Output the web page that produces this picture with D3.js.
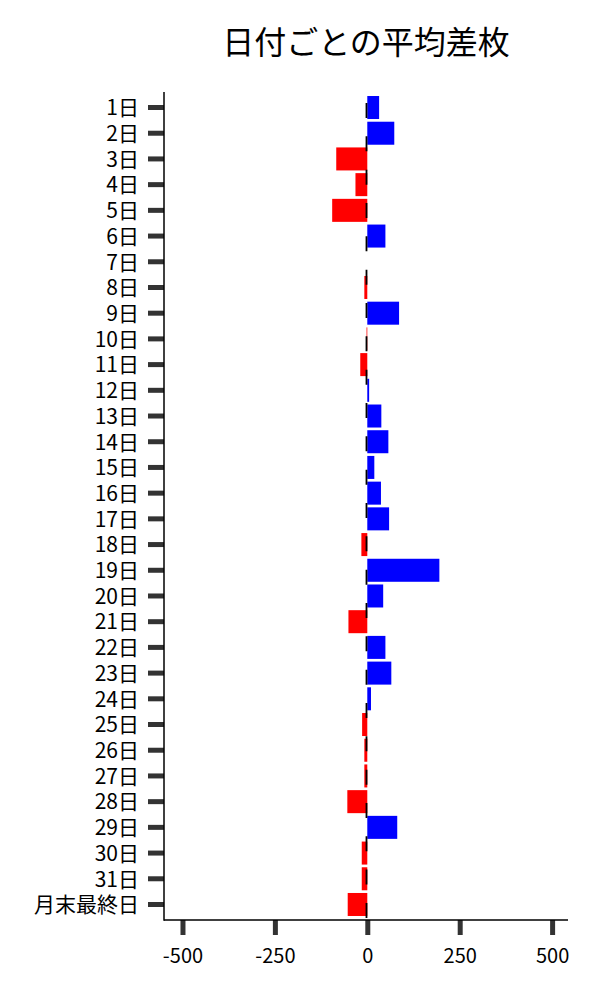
<!DOCTYPE html>
<html>
<head>
<meta charset="utf-8">
<script src="https://cdn.jsdelivr.net/npm/d3@7"></script>
<style>
  html, body { margin: 0; padding: 0; background: #fff; }
  svg text { font-family: "Noto Sans CJK JP", "Noto Sans", sans-serif; }
</style>
</head>
<body>
<svg id="chart" width="600" height="1000"></svg>
<script>
const title = "日付ごとの平均差枚";
const categories = ["1日","2日","3日","4日","5日","6日","7日","8日","9日","10日",
  "11日","12日","13日","14日","15日","16日","17日","18日","19日","20日",
  "21日","22日","23日","24日","25日","26日","27日","28日","29日","30日","31日","月末最終日"];
const values = [32, 73, -84, -32, -95, 49, 0, -8, 86, -2,
  -19, 5, 38, 57, 19, 37, 59, -16, 195, 43,
  -51, 49, 65, 10, -14, -8, -8, -54, 81, -15, -15, -53];
const xTicks = [-500, -250, 0, 250, 500];
const xDomain = [-550, 543];

(function () {
const svg = d3.select("#chart");
const mLeft = 164, mRight = 568, mTop = 92, mBottom = 920;

const x = d3.scaleLinear().domain(xDomain).range([mLeft, mRight]);
const y = d3.scaleBand().domain(categories).range([mTop, mBottom])
  .paddingInner(0.105).paddingOuter(0.156);

// bars
svg.append("g").selectAll("rect").data(categories).join("rect")
  .attr("x", (d, i) => Math.min(x(0), x(values[i])))
  .attr("y", d => y(d))
  .attr("width", (d, i) => Math.abs(x(values[i]) - x(0)))
  .attr("height", y.bandwidth())
  .attr("fill", (d, i) => values[i] >= 0 ? "#0000ff" : "#ff0000");

// dashed zero line
svg.append("line")
  .attr("x1", x(0) - 0.8).attr("x2", x(0) - 0.8)
  .attr("y1", mTop).attr("y2", mBottom + 8)
  .attr("stroke", "#000").attr("stroke-width", 1.8)
  .attr("stroke-dasharray", "15,18.33")
  .attr("stroke-dashoffset", 22.3);

// x axis
const xAxis = d3.axisBottom(x).tickValues(xTicks).tickSize(15).tickPadding(14)
  .tickFormat(d3.format("d"));
const gx = svg.append("g").attr("transform", `translate(0,${mBottom})`).call(xAxis);
gx.select(".domain").remove();
gx.selectAll(".tick line").attr("stroke", "#333").attr("stroke-width", 5);
gx.selectAll(".tick text").attr("font-size", 20).attr("fill", "#000")
  .text(d => d < 0 ? "-" + Math.abs(d) : d);
svg.append("line").attr("x1", mLeft).attr("x2", mRight).attr("y1", mBottom).attr("y2", mBottom)
  .attr("stroke", "#000").attr("stroke-width", 1.5);

// y axis
const yAxis = d3.axisLeft(y).tickSize(16).tickPadding(9);
const gy = svg.append("g").attr("transform", `translate(${mLeft},0)`).call(yAxis);
gy.select(".domain").remove();
gy.selectAll(".tick line").attr("stroke", "#333").attr("stroke-width", 5);
gy.selectAll(".tick text").attr("font-size", 21).attr("fill", "#000").attr("dy", "0.37em");
svg.append("line").attr("x1", mLeft).attr("x2", mLeft).attr("y1", mTop).attr("y2", mBottom + 0.75)
  .attr("stroke", "#000").attr("stroke-width", 1.5);

// title
svg.append("text")
  .attr("x", (mLeft + mRight) / 2).attr("y", 54)
  .attr("text-anchor", "middle")
  .attr("font-size", 32)
  .attr("fill", "#000")
  .text(title);
})();
</script>
</body>
</html>
